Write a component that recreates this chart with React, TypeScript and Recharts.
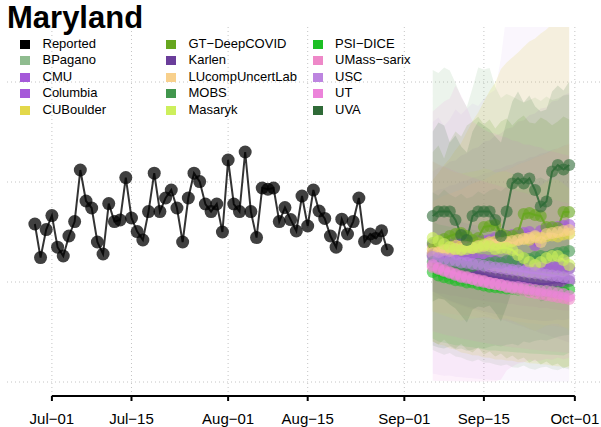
import React from 'react';
import { ComposedChart, Line, Area, XAxis, YAxis, CartesianGrid, ReferenceLine, Legend } from 'recharts';

// ---------- data ----------
const reportedStartDay = -3; // days since Jul-01 (Jun-28)
const reported = [
  790, 622, 762,
  832, 674, 630, 730, 802, 1060, 905, 870, 700, 640, 892, 802, 810, 1022, 820, 752, 710, 852, 1044, 852, 920, 960, 870, 700, 920, 1044, 1002, 890, 852, 890, 750,
  1110, 890, 852, 1150, 852, 722, 970, 964, 970, 802, 872, 812, 755, 930, 780, 960, 855, 818, 730, 674, 814, 740, 802, 920, 702, 740, 718, 756, 660,
];

const forecastStartDay = 67; // Sep-06

const tickDays = [0, 14, 31, 45, 62, 76, 92];
const tickLabels = ['Jul−01', 'Jul−15', 'Aug−01', 'Aug−15', 'Sep−01', 'Sep−15', 'Oct−01'];
const gridValues = [0, 500, 1000, 1500];

// medians
const medBPagano = [630,620,625,615,620,610,615,605,610,600,605,595,600,590,595,585,590,585,580,585,575,580,570,575,570];
const medCMU = [685,680,690,685,695,690,700,695,705,705,710,720,725,730,735,730,745,750,685,755,765,770,775,780,785];
const medColumbia = [645,641,634,632,627,626,619,621,613,611,608,606,598,601,594,596,588,586,583,581,577,578,572,571,568];
const medCUBoulder = [665,672,668,676,683,679,688,684,694,690,699,702,697,708,704,713,718,711,724,720,729,733,727,738,741];
const medGT = [695,705,715,730,740,745,730,710,720,775,780,785,740,730,730,745,840,845,835,830,775,775,770,850,850];
const medKarlen = [635,620,605,590,580,570,560,555,545,540,530,525,520,515,510,505,500,495,495,490,490,495,500,495,505];
const medLU = [645,650,660,655,665,665,675,670,680,680,690,685,695,700,705,710,715,720,730,700,740,745,750,755,760];
const medMOBS = [600,590,585,595,580,585,575,580,590,585,595,600,595,605,610,600,620,615,625,630,625,635,645,650,655];
const medMasaryk = [720,705,690,675,665,660,665,670,675,685,680,665,670,670,660,635,620,600,585,600,620,630,630,610,585];
const medPSI = [550,532,524,517,509,506,498,497,489,482,476,474,471,468,466,463,461,458,456,455,452,450,449,447,462];
const medUMass = [575,565,555,550,540,530,525,515,510,505,495,490,485,475,470,465,460,450,445,440,435,430,425,420,415];
const medUSC = [625,619,615,608,606,598,596,590,587,581,578,572,570,565,561,557,553,548,545,541,536,533,529,524,520];
const medUT = [585,570,560,545,535,525,520,515,505,500,495,490,485,480,475,475,470,465,460,455,455,450,445,440,430];
const medUVA = [830,852,852,852,810,735,710,830,852,852,852,810,730,852,993,1018,993,1018,960,877,902,1052,1085,1063,1085];

// interval bounds
const hiBPagano = [1560,1545,1572,1558,1495,1425,1375,1470,1572,1562,1570,1475,1420,1440,1428,1412,1398,1410,1422,1405,1428,1410,1418,1432,1436];
const loBPagano = [160,148,136,145,128,122,110,102,113,98,96,87,81,88,74,71,82,68,61,72,76,64,59,71,62];
const hiCMU = [1052,1071,1078,1102,1108,1133,1144,1166,1174,1203,1208,1233,1244,1267,1272,1302,1308,1334,1342,1368,1372,1403,1407,1434,1445];
const loCMU = [452,444,441,433,431,424,422,413,411,404,402,398,396,389,391,384,381,378,376,369,371,364,361,358,356];
const hiColumbia = [948,962,968,983,988,1002,1008,1023,1028,1042,1048,1063,1068,1082,1088,1103,1108,1122,1128,1143,1148,1162,1168,1183,1188];
const loColumbia = [432,421,412,402,393,381,372,363,352,343,334,322,313,304,293,284,276,264,256,244,237,226,218,207,198];
const hiCUBoulder = [1010,1045,1085,1118,1160,1195,1250,1305,1348,1402,1455,1498,1565,1598,1622,1648,1676,1702,1718,1742,1762,1792,1818,1852,1884];
const loCUBoulder = [202,188,183,168,162,148,143,134,132,123,121,113,112,108,106,99,101,94,92,89,87,81,79,76,71];
const hiGT = [1150,1182,1118,1204,1252,1228,1282,1302,1326,1288,1312,1268,1302,1318,1282,1312,1332,1298,1292,1322,1308,1284,1302,1328,1312];
const loGT = [202,188,212,182,168,191,162,148,172,138,152,128,143,118,132,111,122,98,112,88,103,82,92,68,81];
const hiKarlen = [852,842,828,816,808,801,792,788,781,776,768,764,761,756,752,748,744,741,740,736,736,740,744,741,748];
const loKarlen = [452,438,422,408,398,388,377,371,361,354,346,341,336,331,326,321,316,311,310,306,305,308,312,309,316];
const hiLU = [902,918,933,941,952,963,978,992,1003,1011,1028,1042,1053,1061,1072,1088,1097,1108,1123,1131,1142,1158,1167,1178,1192];
const loLU = [352,348,342,341,338,332,331,327,322,321,318,312,311,307,302,301,298,292,291,287,282,281,278,272,271];
const hiMOBS = [948,932,962,938,922,941,918,928,952,938,958,968,952,978,988,962,1002,992,1012,1022,1008,1032,1052,1058,1068];
const loMOBS = [182,172,168,178,162,168,156,161,172,166,176,182,177,186,191,182,202,196,206,211,207,216,226,232,236];
const hiMasaryk = [1102,1088,1072,1058,1048,1042,1048,1052,1058,1068,1062,1048,1052,1053,1042,1018,1002,982,968,982,1002,1012,1012,992,968];
const loMasaryk = [352,342,331,322,313,308,312,316,321,328,324,312,316,317,308,292,281,268,256,268,282,291,291,276,258];
const hiPSI = [802,788,782,776,771,768,762,761,756,751,748,746,744,742,741,738,737,735,734,733,731,730,729,728,738];
const loPSI = [218,202,196,191,184,182,176,174,168,163,158,157,154,152,150,147,146,143,141,140,138,136,135,133,146];
const hiUMass = [1102,1088,1078,1066,1052,1042,1032,1022,1012,1002,994,986,978,968,962,952,946,938,932,924,918,912,906,898,892];
const loUMass = [252,246,238,231,226,218,212,206,201,196,191,186,182,178,174,171,167,164,161,158,156,153,151,148,146];
const hiUSC = [1300,1322,1280,1312,1362,1338,1368,1392,1380,1418,1442,1460,1620,1850,1980,2060,2120,2260,2330,2410,2540,2600,2720,2790,2900];
const loUSC = [42,36,31,33,26,24,21,19,16,14,11,10,9,8,6,5,5,4,4,3,3,2,2,2,2];
const hiUT = [1352,1378,1402,1418,1482,1432,1372,1302,1282,1262,1248,1242,1228,1222,1208,1202,1188,1186,1178,1172,1158,1152,1146,1138,1132];
const loUT = [6,5,5,4,4,4,3,3,3,3,2,2,12,58,78,92,98,112,104,108,116,111,122,114,121];
const hiUVA = [1252,1298,1282,1198,1232,1178,1148,1252,1302,1282,1262,1228,1198,1302,1402,1452,1398,1432,1378,1352,1362,1452,1482,1458,1502];
const loUVA = [402,418,412,388,368,332,298,362,378,372,382,348,302,378,462,478,458,482,438,402,412,502,518,508,522];

const modelNames = ['BPagano', 'CMU', 'Columbia', 'CUBoulder', 'GT−DeepCOVID', 'Karlen', 'LUcompUncertLab', 'MOBS', 'Masaryk', 'PSI−DICE', 'UMass−sarix', 'USC', 'UT', 'UVA'];
const modelColors = ['#8fbc8f', '#a559d9', '#a559d9', '#e3d84a', '#66a61e', '#6a3d9a', '#f8d08c', '#41964d', '#cdef5c', '#1cbf24', '#ee88c8', '#bd85e0', '#ec83da', '#2f6a37'];
const bandAlpha = [0.17, 0.09, 0.09, 0.18, 0.16, 0.09, 0.16, 0.15, 0.15, 0.13, 0.11, 0.07, 0.11, 0.14];
const modelMed = [medBPagano, medCMU, medColumbia, medCUBoulder, medGT, medKarlen, medLU, medMOBS, medMasaryk, medPSI, medUMass, medUSC, medUT, medUVA];
const modelLo = [loBPagano, loCMU, loColumbia, loCUBoulder, loGT, loKarlen, loLU, loMOBS, loMasaryk, loPSI, loUMass, loUSC, loUT, loUVA];
const modelHi = [hiBPagano, hiCMU, hiColumbia, hiCUBoulder, hiGT, hiKarlen, hiLU, hiMOBS, hiMasaryk, hiPSI, hiUMass, hiUSC, hiUT, hiUVA];

// ---------- table ----------
const rows: any[] = [];
reported.forEach((v, i) => rows.push({ d: reportedStartDay + i, reported: v }));
for (let i = 0; i < medUVA.length; i++) {
  const row: any = { d: forecastStartDay + i };
  modelNames.forEach((_, m) => {
    row['med' + m] = modelMed[m][i];
    row['band' + m] = [modelLo[m][i], modelHi[m][i]];
  });
  rows.push(row);
}

const FONT = '"Liberation Sans", Arial, Helvetica, sans-serif';

const legendNames = ['Reported', ...modelNames];
const legendColors = ['#000000', ...modelColors];

const renderLegend = () => {
  const colX = [20, 166, 313];
  const textX = [42.5, 188.5, 335];
  const rowTop = 35.5;
  const rowH = 16.5;
  return (
    <div style={{ position: 'relative', width: 601, height: 130, fontFamily: FONT, fontSize: 13, color: '#000' }}>
      {legendNames.map((name, i) => {
        const c = Math.floor(i / 5);
        const r = i % 5;
        const top = rowTop + r * rowH;
        return (
          <React.Fragment key={name}>
            <div style={{ position: 'absolute', left: colX[c], top: top + 4, width: 10, height: 9, background: legendColors[i] }} />
            <div style={{ position: 'absolute', left: textX[c], top: top, height: 16.5, lineHeight: '16.5px', whiteSpace: 'nowrap' }}>{name}</div>
          </React.Fragment>
        );
      })}
    </div>
  );
};

export default function App() {
  return (
    <div style={{ position: 'absolute', left: 0, top: 0, width: 601, height: 427, background: '#fff' }}>
      <ComposedChart width={601} height={427} data={rows} margin={{ top: 27, right: 0, left: 7, bottom: 0 }}>
        <CartesianGrid
          stroke="#c4c4c4"
          strokeDasharray="1 3"
          horizontalValues={gridValues}
          verticalValues={tickDays}
        />
        <XAxis
          dataKey="d"
          type="number"
          domain={[-7.9, 96.6]}
          allowDataOverflow
          ticks={tickDays}
          interval={0}
          tickFormatter={(v: number) => tickLabels[tickDays.indexOf(v)]}
          axisLine={false}
          tickLine={{ stroke: '#000', strokeWidth: 2 }}
          tickSize={5}
          tickMargin={12}
          height={31}
          tick={{ fill: '#000', fontSize: 15, fontFamily: FONT }}
        />
        <YAxis hide type="number" domain={[-70, 1775]} allowDataOverflow />
        {modelNames.map((n, m) => (
          <Area
            key={'band' + m}
            dataKey={'band' + m}
            type="linear"
            stroke="none"
            fill={modelColors[m]}
            fillOpacity={bandAlpha[m]}
            isAnimationActive={false}
            legendType="none"
            activeDot={false}
          />
        ))}
        <ReferenceLine
          segment={[{ x: 0, y: -70 }, { x: 92, y: -70 }]}
          stroke="#000"
          strokeWidth={2}
          ifOverflow="visible"
        />
        <Line
          dataKey="reported"
          type="linear"
          stroke="#000"
          strokeOpacity={0.8}
          strokeWidth={2}
          dot={{ r: 6.5, fill: '#000', fillOpacity: 0.75, stroke: 'none' }}
          activeDot={false}
          isAnimationActive={false}
        />
        {modelNames.map((n, m) => (
          <Line
            key={'med' + m}
            dataKey={'med' + m}
            type="linear"
            stroke={modelColors[m]}
            strokeOpacity={0.85}
            strokeWidth={2}
            dot={{ r: 6, fill: modelColors[m], fillOpacity: 0.6, stroke: 'none' }}
            activeDot={false}
            isAnimationActive={false}
          />
        ))}
        <Legend
          content={renderLegend}
          layout="horizontal"
          align="center"
          verticalAlign="middle"
          wrapperStyle={{ position: 'absolute', left: 0, top: 0, width: 601, height: 130 }}
        />
      </ComposedChart>
      <div style={{ position: 'absolute', left: 7, top: 2, fontFamily: FONT, fontWeight: 'bold', fontSize: 31, lineHeight: '31px', color: '#000' }}>
        Maryland
      </div>
    </div>
  );
}
